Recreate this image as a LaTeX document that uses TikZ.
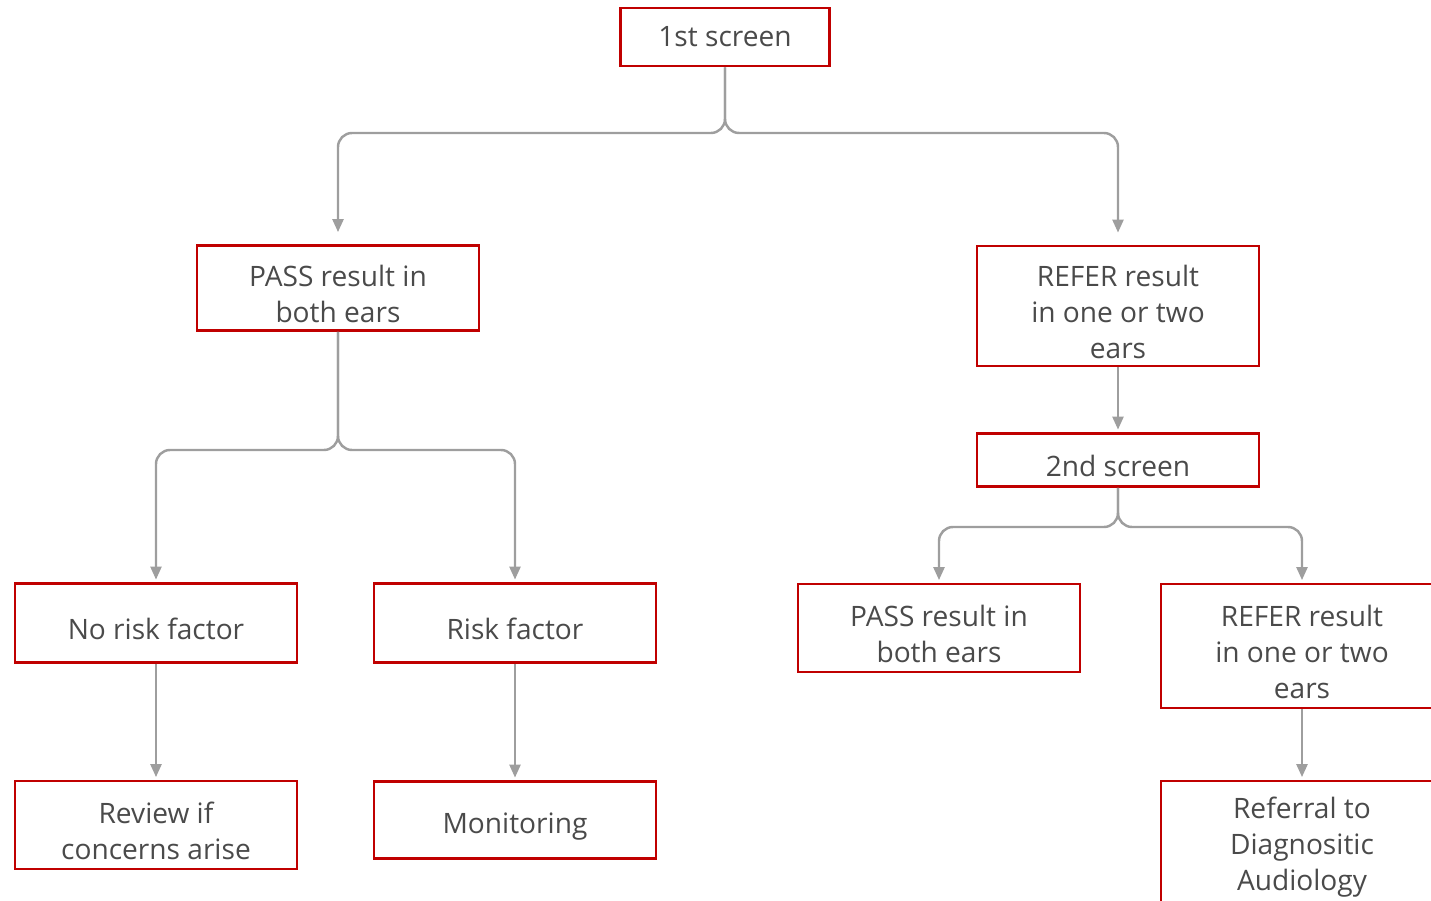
\documentclass[tikz,border=0pt]{standalone}
\usepackage{fontspec}
\setmainfont{Open Sans}
\usepackage{xcolor}
\usepackage{tikz}
\usetikzlibrary{arrows.meta,positioning}
\definecolor{boxred}{HTML}{C00000}
\definecolor{linegray}{HTML}{9E9E9E}
\definecolor{txtgray}{HTML}{4A4A4A}

\begin{document}
\begin{tikzpicture}[
  x=0.02cm, y=-0.02cm,
  box/.style={draw=boxred, line width=1.6pt, align=center, text=txtgray,
              font=\fontsize{16}{20.5}\selectfont, minimum width=5.64cm, inner sep=0pt},
  oneline/.style={box, text height=19pt},
  twoline/.style={box, text height=39pt},
  threeline/.style={box, text height=59.5pt},
  arr/.style={draw=linegray, line width=1.4pt, rounded corners=8pt,
              -{Triangle[length=2.6mm,width=2.2mm]}, shorten >=0.5mm},
  far/.style={shorten >=2.4mm}
]
\useasboundingbox (0,0) rectangle (1431,901);

\node[box, minimum width=4.18cm, minimum height=1.16cm] (first) at (725,37) {1st screen};
\node[twoline, minimum height=1.7cm] (passA) at (338,288) {PASS result in\\both ears};
\node[threeline, minimum height=2.4cm] (referA) at (1118,306) {REFER result\\in one or two\\ears};
\node[oneline, minimum height=1.06cm] (second) at (1118,460) {2nd screen};
\node[oneline, minimum height=1.58cm] (norisk) at (156,623) {No risk factor};
\node[oneline, minimum height=1.58cm] (risk) at (515,623) {Risk factor};
\node[twoline, minimum height=1.76cm] (passB) at (939,628) {PASS result in\\both ears};
\node[threeline, minimum height=2.48cm] (referB) at (1302,646) {REFER result\\in one or two\\ears};
\node[twoline, minimum height=1.76cm] (review) at (156,825) {Review if\\concerns arise};
\node[oneline, minimum height=1.54cm] (monitor) at (515,820) {Monitoring};
\node[box, minimum height=2.64cm] (referral) at (1302,847) {Referral to\\Diagnositic\\Audiology};

\coordinate (splitA) at (725,133);
\coordinate (splitB) at (338,450);
\coordinate (splitC) at (1118,527);

\draw[arr, far] (first) -- (splitA) -| (passA);
\draw[arr, far] (first) -- (splitA) -| (referA);
\draw[arr] (passA) -- (splitB) -| (norisk);
\draw[arr] (passA) -- (splitB) -| (risk);
\draw[arr] (referA) -- (second);
\draw[arr] (second) -- (splitC) -| (passB);
\draw[arr] (second) -- (splitC) -| (referB);
\draw[arr] (norisk) -- (review);
\draw[arr] (risk) -- (monitor);
\draw[arr] (referB) -- (referral);
\end{tikzpicture}
\end{document}
